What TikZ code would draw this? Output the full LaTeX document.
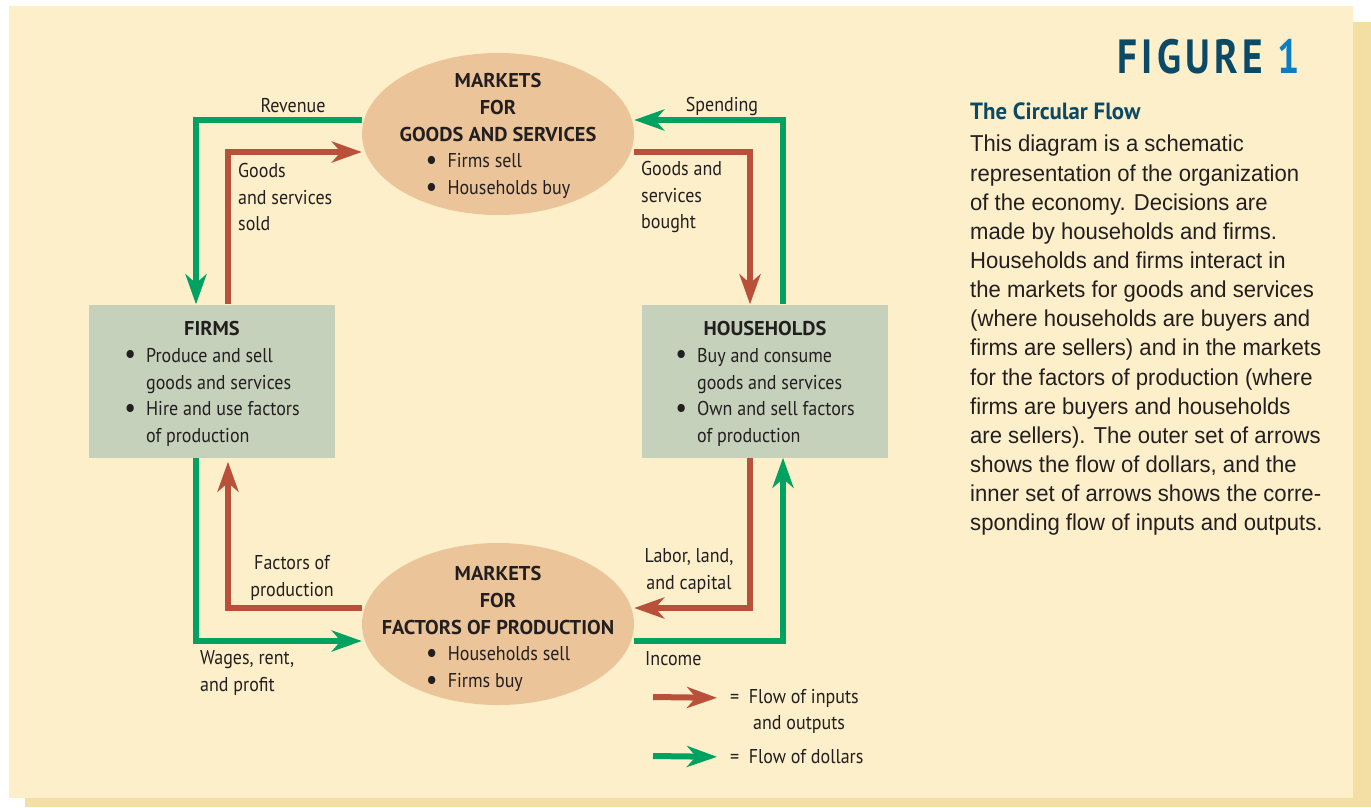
\documentclass[tikz,border=0pt]{standalone}
\usepackage{fontspec}
\setmainfont{PT Sans}[FakeStretch=0.9, BoldFeatures={FakeStretch=1.02}]
\newfontfamily\bodyfont{Liberation Sans}[FakeStretch=0.96]
\newfontfamily\headfont{PT Sans}[FakeStretch=0.97]
\newfontfamily\figfont{PT Sans}[FakeStretch=0.82,LetterSpace=9]
\usetikzlibrary{
  arrows.meta,
  positioning,
  shapes.geometric
}
\definecolor{ink}{HTML}{231F20}
\definecolor{panel}{HTML}{FDEFC9}
\definecolor{panelshadow}{HTML}{F3DFA3}
\definecolor{tan}{HTML}{EBC599}
\definecolor{sage}{HTML}{C6D1BC}
\definecolor{flowred}{HTML}{B9503A}
\definecolor{flowgreen}{HTML}{00A261}
\definecolor{teal}{HTML}{0B4A66}
\definecolor{figblue}{HTML}{0A7EC2}
\newcommand\diagsize{\fontsize{20}{26.7}\selectfont}
\newcommand\bodysize{\fontsize{23}{29.15}\selectfont}
\tikzset{
  >={Stealth[length=30pt,width=21pt,inset=9pt]},
  every node/.style={font=\diagsize, text=ink},
  market/.style={ellipse, fill=tan, minimum width=272pt, minimum height=162pt, inner sep=0pt},
  sector/.style={rectangle, fill=sage, minimum width=246pt, minimum height=153pt, inner sep=0pt},
  blocktext/.style={align=center, inner sep=0pt},
  goodsflow/.style={->, line width=6pt, draw=flowred},
  dollarflow/.style={->, line width=6pt, draw=flowgreen},
  annot/.style={align=left, inner sep=0pt},
  blurb/.style={align=left, inner sep=0pt, font=\bodyfont\bodysize}
}
\newcommand\bul{\smash{\raisebox{-1.5pt}{\fontsize{29}{0}\selectfont\textbullet}}}

\begin{document}
\begin{tikzpicture}[x=1pt, y=-1pt]
  \useasboundingbox (0,0) rectangle (1371,807);
  % Panel and its shadow
  \fill[panelshadow] (25,22) rectangle (1371,807);
  \fill[panel] (9,6) rectangle (1353,798);

  % Markets
  \node[market] (goods) at (498,134) {};
  \node[blocktext] (goodstext) at (498,138) {\textbf{MARKETS}\\\textbf{FOR}\\\textbf{GOODS AND SERVICES}\\
    \begin{tabular}[t]{@{}l@{\hspace{10pt}}l@{}}\bul & Firms sell\\ \bul & Households buy\end{tabular}};
  \node[market] (factors) at (498,624) {};
  \node[blocktext] (factorstext) at (498,631) {\textbf{MARKETS}\\\textbf{FOR}\\\textbf{FACTORS OF PRODUCTION}\\
    \begin{tabular}[t]{@{}l@{\hspace{10pt}}l@{}}\bul & Households sell\\ \bul & Firms buy\end{tabular}};

  % Sectors
  \node[sector] (firms) at (212,381) {};
  \node[blocktext] (firmstext) at (212,386) {\textbf{FIRMS}\\
    \begin{tabular}[t]{@{}l@{\hspace{10pt}}l@{}}\bul & Produce and sell\\ & goods and services\\ \bul & Hire and use factors\\ & of production\end{tabular}};
  \node[sector] (hh) at (765,381) {};
  \node[blocktext] (hhtext) at (765,386) {\textbf{HOUSEHOLDS}\\
    \begin{tabular}[t]{@{}l@{\hspace{10pt}}l@{}}\bul & Buy and consume\\ & goods and services\\ \bul & Own and sell factors\\ & of production\end{tabular}};

  % Outer loop: dollars
  \draw[dollarflow] (goods.west |- 0,120) -| (firms.north -| 196,0);
  \draw[dollarflow] (firms.south -| 196,0) |- (factors.west |- 0,641);
  \draw[dollarflow] (factors.east |- 0,641) -| (hh.south -| 783,0);
  \draw[dollarflow] (hh.north -| 783,0) |- (goods.east |- 0,120);

  % Inner loop: inputs and outputs
  \draw[goodsflow] (firms.north -| 228,0) |- (goods.west |- 0,152);
  \draw[goodsflow] (goods.east |- 0,152) -| (hh.north -| 750,0);
  \draw[goodsflow] (hh.south -| 750,0) |- (factors.east |- 0,608);
  \draw[goodsflow, shorten >=4pt] (factors.west |- 0,608) -| (firms.south -| 228,0);

  % Flow labels
  \node[annot] (revenue) at (293,106) {Revenue};
  \node[annot] (spending) at (722,106) {Spending};
  \node[annot, anchor=west] (sold) at (238,197) {Goods\\and services\\sold};
  \node[annot, anchor=west] (bought) at (641,197) {Goods and\\services\\bought};
  \node[annot, align=center] (fop) at (292,578) {Factors of\\production};
  \node[annot, align=center] (labor) at (689,571) {Labor, land,\\and capital};
  \node[annot, anchor=west] (wages) at (200,673) {Wages, rent,\\and profit};
  \node[annot, anchor=west] (income) at (645,659) {Income};

  % Legend
  \coordinate (legred) at (653,697);
  \coordinate (leggreen) at (653,756);
  \node[annot, anchor=west] (legredtext) at (730,698) {= \ Flow of inputs};
  \node[annot, anchor=west] (legredtext2) at (753,724) {and outputs};
  \node[annot, anchor=west] (leggreentext) at (730,757) {= \ Flow of dollars};
  \draw[goodsflow, shorten >=13pt] (legred) -- (legredtext.west);
  \draw[dollarflow, shorten >=13pt] (leggreen) -- (leggreentext.west);

  % Caption
  \node[anchor=east, inner sep=0pt, font=\figfont\fontsize{48}{50}\selectfont\bfseries, text=teal] (fig) at (1300,57) {FIGURE \textcolor{figblue}{1}};
  \node[anchor=west, inner sep=0pt, font=\headfont\fontsize{23.5}{28}\selectfont\bfseries, text=teal] (title) at (970,111) {The Circular Flow};
  \node[blurb, anchor=north west] (blurbtext) at (970,135) {This diagram is a schematic\\
    representation of the organization\\
    of the economy. Decisions are\\
    made by households and firms.\\
    Households and firms interact in\\
    the markets for goods and services\\
    (where households are buyers and\\
    firms are sellers) and in the markets\\
    for the factors of production (where\\
    firms are buyers and households\\
    are sellers). The outer set of arrows\\
    shows the flow of dollars, and the\\
    inner set of arrows shows the corre-\\
    sponding flow of inputs and outputs.};
\end{tikzpicture}
\end{document}
